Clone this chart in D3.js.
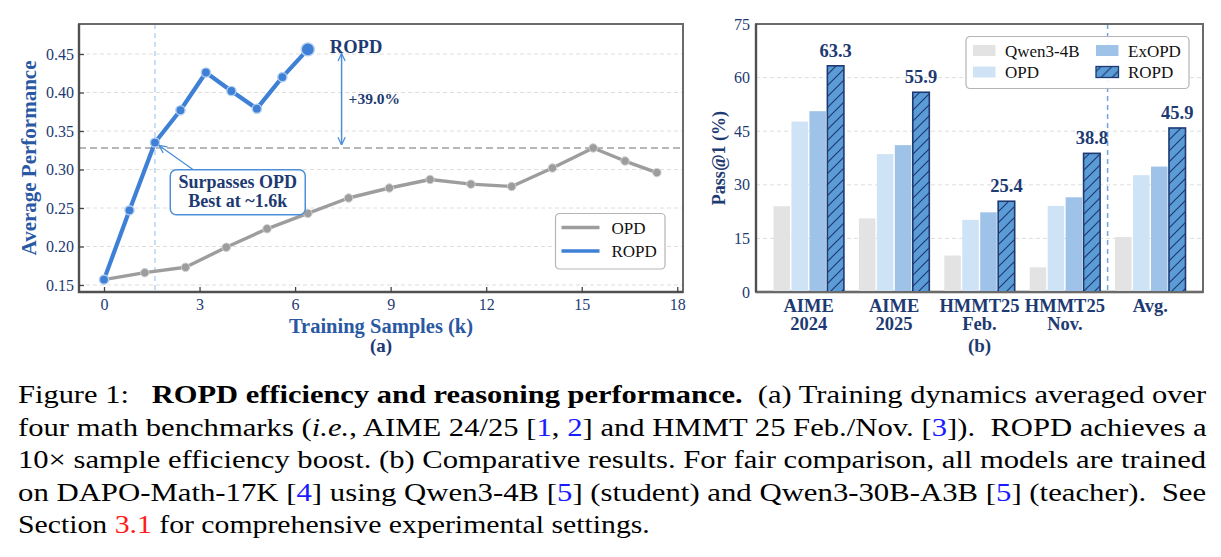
<!DOCTYPE html>
<html><head><meta charset="utf-8">
<script src="https://cdn.jsdelivr.net/npm/d3@7"></script>
<style>body{margin:0;background:#fff;} svg{display:block;}</style>
</head><body>
<svg id="c" width="1221" height="557"></svg>
<script>
// ---------------- data ----------------
const ropdSamples = [0, 0.8, 1.6, 2.4, 3.2, 4.0, 4.8, 5.6, 6.4];
const ropdPerf    = [0.157, 0.247, 0.335, 0.377, 0.426, 0.402, 0.379, 0.420, 0.456];
const opdSamples  = [0, 1.28, 2.56, 3.84, 5.12, 6.4, 7.68, 8.96, 10.24, 11.52, 12.8, 14.08, 15.36, 16.36, 17.36];
const opdPerf     = [0.157, 0.166, 0.173, 0.199, 0.223, 0.243, 0.263, 0.276, 0.287, 0.281, 0.278, 0.302, 0.328, 0.311, 0.296];
const perfTicks   = [0.15, 0.20, 0.25, 0.30, 0.35, 0.40, 0.45];
const sampleTicks = [0, 3, 6, 9, 12, 15, 18];
const lineSeries  = ["OPD", "ROPD"];

const benchmarks  = ["AIME 2024", "AIME 2025", "HMMT25 Feb.", "HMMT25 Nov.", "Avg."];
const benchLabels = [["AIME", "2024"], ["AIME", "2025"], ["HMMT25", "Feb."], ["HMMT25", "Nov."], ["Avg."]];
const models      = ["Qwen3-4B", "OPD", "ExOPD", "ROPD"];
const qwenScores  = [24.0, 20.6, 10.2, 6.9, 15.4];
const opdScores   = [47.7, 38.6, 20.2, 24.1, 32.7];
const exopdScores = [50.6, 41.1, 22.3, 26.5, 35.1];
const ropdScores  = [63.3, 55.9, 25.4, 38.8, 45.9];
const passTicks   = [0, 15, 30, 45, 60, 75];

// ---------------- styles ----------------
const serif = "'Liberation Serif','Times New Roman',serif";
const NAVY = "#1e3a72", TITLE = "#2a58a2", LBLUE = "#3e80d5", GRAY = "#9d9d9d", ABLUE = "#4a8fd8";
const barColors = {"Qwen3-4B": "#e3e3e3", "OPD": "#cfe3f6", "ExOPD": "#9fc3e8", "ROPD": "#5b9bd6"};

const svg = d3.select("#c");
const defs = svg.append("defs");
const pat = defs.append("pattern").attr("id", "hatch").attr("patternUnits", "userSpaceOnUse")
  .attr("width", 11).attr("height", 11);
pat.append("rect").attr("width", 11).attr("height", 11).attr("fill", barColors.ROPD);
pat.append("path").attr("d", "M0,11 L11,0 M-3,3 L3,-3 M8,14 L14,8")
  .attr("stroke", NAVY).attr("stroke-width", 1.2);
defs.append("marker").attr("id", "arr").attr("viewBox", "0 0 10 10").attr("refX", 9.5).attr("refY", 5)
  .attr("markerWidth", 9).attr("markerHeight", 9).attr("markerUnits", "userSpaceOnUse")
  .attr("orient", "auto-start-reverse")
  .append("path").attr("d", "M1,1 L9.5,5 L1,9").attr("fill", "none").attr("stroke", ABLUE).attr("stroke-width", 1.4);

// ================= (a) line chart =================
const A = {x0: 79, x1: 683, y0: 24, y1: 292};
const x = d3.scaleLinear().domain([-0.785, 18.18]).range([A.x0, A.x1]);
const y = d3.scaleLinear().domain([0.1409, 0.489]).range([A.y1, A.y0]);
const ga = svg.append("g");

ga.selectAll(".hg").data(perfTicks).join("line")
  .attr("x1", A.x0).attr("x2", A.x1).attr("y1", d => y(d)).attr("y2", d => y(d))
  .attr("stroke", "#dedede").attr("stroke-width", 1).attr("stroke-dasharray", "4,3");

// vertical marker at 1.6k
ga.append("line").attr("x1", x(1.6)).attr("x2", x(1.6)).attr("y1", A.y0).attr("y2", A.y1)
  .attr("stroke", "#a9cff1").attr("stroke-width", 1.3).attr("stroke-dasharray", "5,4");
// OPD best line
const opdBest = d3.max(opdPerf);
ga.append("line").attr("x1", A.x0).attr("x2", A.x1).attr("y1", y(opdBest)).attr("y2", y(opdBest))
  .attr("stroke", "#a0a0a0").attr("stroke-width", 1.6).attr("stroke-dasharray", "7,4");

const line = d3.line().x(d => x(d[0])).y(d => y(d[1]));
const opdPts = opdSamples.map((s, i) => [s, opdPerf[i]]);
const ropdPts = ropdSamples.map((s, i) => [s, ropdPerf[i]]);

ga.append("path").datum(opdPts).attr("d", line).attr("fill", "none")
  .attr("stroke", GRAY).attr("stroke-width", 3.4).attr("stroke-linejoin", "round");
ga.selectAll(".op").data(opdPts).join("circle").attr("cx", d => x(d[0])).attr("cy", d => y(d[1]))
  .attr("r", 4.2).attr("fill", GRAY).attr("stroke", "#cfcfcf").attr("stroke-width", 1);

ga.append("path").datum(ropdPts).attr("d", line).attr("fill", "none")
  .attr("stroke", LBLUE).attr("stroke-width", 4.2).attr("stroke-linejoin", "round");
ga.selectAll(".rp").data(ropdPts).join("circle").attr("cx", d => x(d[0])).attr("cy", d => y(d[1]))
  .attr("r", (d, i) => i === ropdPts.length - 1 ? 6.5 : 4.6)
  .attr("fill", LBLUE).attr("stroke", "#b3cff1").attr("stroke-width", 1.4);

// ROPD end label
const last = ropdPts[ropdPts.length - 1];
ga.append("text").attr("x", x(last[0]) + 22).attr("y", y(last[1]) + 4)
  .attr("font-family", serif).attr("font-weight", "bold").attr("font-size", 18.5).attr("fill", NAVY).text("ROPD");

// double arrow for improvement
const xa = 7.46;
ga.append("line").attr("x1", x(xa)).attr("x2", x(xa)).attr("y1", y(last[1]) + 4).attr("y2", y(opdBest) - 3)
  .attr("stroke", ABLUE).attr("stroke-width", 1.5)
  .attr("marker-start", "url(#arr)").attr("marker-end", "url(#arr)");
ga.append("text").attr("x", x(xa) + 7).attr("y", y((last[1] + opdBest) / 2) + 5.5)
  .attr("font-family", serif).attr("font-weight", "bold").attr("font-size", 15.5).attr("fill", NAVY)
  .text("+" + ((last[1] / opdBest - 1) * 100).toFixed(1) + "%");

// annotation box
const bx = x(4.2), by = y(0.2705), bw = 135, bh = 45;
const cross = ropdPts[2];
const tail = [bx - bw / 2 + 23, by - bh / 2];
const hx = x(cross[0]), hy = y(cross[1]);
const dx = tail[0] - hx, dy = tail[1] - hy, dl = Math.hypot(dx, dy);
ga.append("line").attr("x1", tail[0]).attr("y1", tail[1])
  .attr("x2", hx + dx / dl * 5).attr("y2", hy + dy / dl * 5)
  .attr("stroke", ABLUE).attr("stroke-width", 1.3).attr("marker-end", "url(#arr)");
ga.append("rect").attr("x", bx - bw / 2).attr("y", by - bh / 2).attr("width", bw).attr("height", bh)
  .attr("rx", 6).attr("fill", "#fff").attr("stroke", ABLUE).attr("stroke-width", 1.5);
const annT = ga.append("text").attr("font-family", serif).attr("font-weight", "bold").attr("font-size", 18)
  .attr("fill", NAVY).attr("text-anchor", "middle");
annT.append("tspan").attr("x", bx).attr("y", by - 4.5).text("Surpasses OPD");
annT.append("tspan").attr("x", bx).attr("y", by + 15).text("Best at ~1.6k");

// legend (a)
const lg = ga.append("g").attr("transform", "translate(555.5,213.5)");
lg.append("rect").attr("width", 109.5).attr("height", 55.5).attr("rx", 4)
  .attr("fill", "#fff").attr("fill-opacity", 0.9).attr("stroke", "#b5b5b5").attr("stroke-width", 1.2);
lineSeries.forEach((s, i) => {
  const yy = 14 + i * 23.5;
  lg.append("line").attr("x1", 6).attr("x2", 44).attr("y1", yy).attr("y2", yy)
    .attr("stroke", s === "OPD" ? GRAY : LBLUE).attr("stroke-width", 3.5);
  lg.append("text").attr("x", 56).attr("y", yy + 6).attr("font-family", serif).attr("font-size", 17)
    .attr("fill", "#111").text(s);
});

// frame (a)
ga.append("rect").attr("x", A.x0).attr("y", A.y0).attr("width", A.x1 - A.x0).attr("height", A.y1 - A.y0)
  .attr("fill", "none").attr("stroke", "#6a6a6a").attr("stroke-width", 2);
ga.append("path").attr("d", `M${A.x0},${A.y0}V${A.y1}H${A.x1}`).attr("fill", "none")
  .attr("stroke", "#505050").attr("stroke-width", 2.4);

function styleAxis(g, size) {
  g.select(".domain").remove();
  g.selectAll("text").attr("font-family", serif).attr("font-size", size).attr("fill", NAVY);
  g.selectAll("line").attr("stroke", "#444").attr("stroke-width", 1.3);
}
ga.append("g").attr("transform", `translate(${A.x0},0)`)
  .call(d3.axisLeft(y).tickValues(perfTicks).tickSize(-5).tickPadding(5).tickFormat(d3.format(".2f")))
  .call(g => styleAxis(g, 16));
ga.append("g").attr("transform", `translate(0,${A.y1})`)
  .call(d3.axisBottom(x).tickValues(sampleTicks).tickSize(-5).tickPadding(6.5).tickFormat(d3.format("d")))
  .call(g => styleAxis(g, 16));

ga.append("text").attr("transform", `translate(36,${(A.y0 + A.y1) / 2}) rotate(-90)`)
  .attr("text-anchor", "middle").attr("font-family", serif).attr("font-weight", "bold").attr("font-size", 21)
  .attr("fill", TITLE).text("Average Performance");
ga.append("text").attr("x", (A.x0 + A.x1) / 2).attr("y", 332.5).attr("text-anchor", "middle")
  .attr("font-family", serif).attr("font-weight", "bold").attr("font-size", 20.5).attr("fill", TITLE)
  .text("Training Samples (k)");
ga.append("text").attr("x", (A.x0 + A.x1) / 2).attr("y", 352).attr("text-anchor", "middle")
  .attr("font-family", serif).attr("font-weight", "bold").attr("font-size", 19).attr("fill", NAVY).text("(a)");

// ================= (b) bar chart =================
const B = {x0: 756, x1: 1203, y0: 24, y1: 292};
const yb = d3.scaleLinear().domain([0, 75]).range([B.y1, B.y0]);
const xb = d3.scaleBand().domain(benchmarks).range([766, 1193]).padding(0);
const xs = d3.scaleBand().domain(models).range([7.5, xb.bandwidth() - 7.5]).paddingInner(0.08);
const gb = svg.append("g");

gb.selectAll(".hg").data(passTicks.filter(d => d > 0 && d < 75)).join("line")
  .attr("x1", B.x0).attr("x2", B.x1).attr("y1", d => yb(d)).attr("y2", d => yb(d))
  .attr("stroke", "#dedede").attr("stroke-width", 1).attr("stroke-dasharray", "4,3");

// separator before Avg.
const sepX = (xb("HMMT25 Nov.") + xb.bandwidth() / 2 + xb("Avg.") + xb.bandwidth() / 2) / 2;
gb.append("line").attr("x1", sepX).attr("x2", sepX).attr("y1", B.y0).attr("y2", B.y1)
  .attr("stroke", "#6aa6df").attr("stroke-width", 1.5).attr("stroke-dasharray", "5,4");

// bottom spine under bars
gb.append("line").attr("x1", B.x0).attr("x2", B.x1).attr("y1", B.y1).attr("y2", B.y1)
  .attr("stroke", "#505050").attr("stroke-width", 2.4);

const scoreSets = {"Qwen3-4B": qwenScores, "OPD": opdScores, "ExOPD": exopdScores, "ROPD": ropdScores};
const barData = [];
benchmarks.forEach((b, i) => models.forEach(m => barData.push({b, m, v: scoreSets[m][i]})));
gb.selectAll(".bar").data(barData).join("rect")
  .attr("x", d => xb(d.b) + xs(d.m)).attr("width", xs.bandwidth())
  .attr("y", d => yb(d.v)).attr("height", d => yb(0) - yb(d.v))
  .attr("fill", d => d.m === "ROPD" ? "url(#hatch)" : barColors[d.m])
  .attr("stroke", d => d.m === "ROPD" ? NAVY : "none").attr("stroke-width", 1.6);

gb.selectAll(".vl").data(barData.filter(d => d.m === "ROPD")).join("text")
  .attr("x", d => xb(d.b) + xs(d.m) + xs.bandwidth() / 2).attr("y", d => yb(d.v) - 9)
  .attr("text-anchor", "middle").attr("font-family", serif).attr("font-weight", "bold").attr("font-size", 18.5)
  .attr("fill", NAVY).text(d => d.v.toFixed(1));

// legend (b)
const lb = gb.append("g").attr("transform", "translate(966,36.5)");
lb.append("rect").attr("width", 223).attr("height", 52).attr("rx", 4)
  .attr("fill", "#fff").attr("fill-opacity", 0.92).attr("stroke", "#b5b5b5").attr("stroke-width", 1.2);
const legOrder = [["Qwen3-4B", 0, 0], ["OPD", 0, 1], ["ExOPD", 1, 0], ["ROPD", 1, 1]];
legOrder.forEach(([m, c, r]) => {
  const ox = 7 + c * 123, oy = 14 + r * 21.5;
  lb.append("rect").attr("x", ox).attr("y", oy - 5.5).attr("width", 22.5).attr("height", 11)
    .attr("fill", m === "ROPD" ? "url(#hatch)" : barColors[m])
    .attr("stroke", m === "ROPD" ? NAVY : "none").attr("stroke-width", 1.3);
  lb.append("text").attr("x", ox + 32).attr("y", oy + 6).attr("font-family", serif).attr("font-size", 17)
    .attr("fill", "#111").text(m);
});

// frame (b)
gb.append("rect").attr("x", B.x0).attr("y", B.y0).attr("width", B.x1 - B.x0).attr("height", B.y1 - B.y0)
  .attr("fill", "none").attr("stroke", "#6a6a6a").attr("stroke-width", 2);
gb.append("line").attr("x1", B.x0).attr("x2", B.x0).attr("y1", B.y0).attr("y2", B.y1)
  .attr("stroke", "#505050").attr("stroke-width", 2.4);

gb.append("g").attr("transform", `translate(${B.x0},0)`)
  .call(d3.axisLeft(yb).tickValues(passTicks).tickSize(0).tickPadding(6).tickFormat(d3.format("d")))
  .call(g => styleAxis(g, 16));

const xl = gb.selectAll(".xl").data(benchmarks).join("text")
  .attr("text-anchor", "middle").attr("font-family", serif).attr("font-weight", "bold")
  .attr("font-size", 18.5).attr("fill", NAVY);
xl.each(function (b, i) {
  const cx = xb(b) + xb.bandwidth() / 2;
  benchLabels[i].forEach((t, k) => d3.select(this).append("tspan").attr("x", cx).attr("y", 311.5 + k * 18.8).text(t));
});

gb.append("text").attr("transform", `translate(725,${(B.y0 + B.y1) / 2}) rotate(-90)`)
  .attr("text-anchor", "middle").attr("font-family", serif).attr("font-weight", "bold").attr("font-size", 18)
  .attr("fill", NAVY).text("Pass@1 (%)");
gb.append("text").attr("x", (B.x0 + B.x1) / 2).attr("y", 352).attr("text-anchor", "middle")
  .attr("font-family", serif).attr("font-weight", "bold").attr("font-size", 19).attr("fill", NAVY).text("(b)");

// ================= caption =================
const capLines = [
  [["Figure 1:   ", ""], ["ROPD efficiency and reasoning performance.", "b"], ["  (a) Training dynamics averaged over", ""]],
  [["four math benchmarks (", ""], ["i.e.", "i"], [", AIME 24/25 [", ""], ["1", "blue"], [", ", ""], ["2", "blue"], ["] and HMMT 25 Feb./Nov. [", ""], ["3", "blue"], ["]).  ROPD achieves a", ""]],
  [["10\u00d7 sample efficiency boost. (b) Comparative results. For fair comparison, all models are trained", ""]],
  [["on DAPO-Math-17K [", ""], ["4", "blue"], ["] using Qwen3-4B [", ""], ["5", "blue"], ["] (student) and Qwen3-30B-A3B [", ""], ["5", "blue"], ["] (teacher).  See", ""]],
  [["Section ", ""], ["3.1", "red"], [" for comprehensive experimental settings.", ""]]
];
const capW = [1189, 1189, 1189, 1189, 632];
const gc = svg.append("g");
capLines.forEach((segs, i) => {
  const t = gc.append("text").attr("x", 0).attr("y", 0).attr("font-family", serif).attr("font-size", 25)
    .attr("fill", "#000").style("white-space", "pre");
  segs.forEach(([s, st]) => {
    const sp = t.append("tspan").text(s);
    if (st === "b") sp.attr("font-weight", "bold");
    if (st === "i") sp.attr("font-style", "italic");
    if (st === "blue") sp.attr("fill", "#1a1aff");
    if (st === "red") sp.attr("fill", "#ff1a1a");
  });
  const w = t.node().getComputedTextLength();
  t.attr("transform", `translate(18,${403 + i * 32.5}) scale(${capW[i] / w},1)`);
});
</script>
</body></html>
